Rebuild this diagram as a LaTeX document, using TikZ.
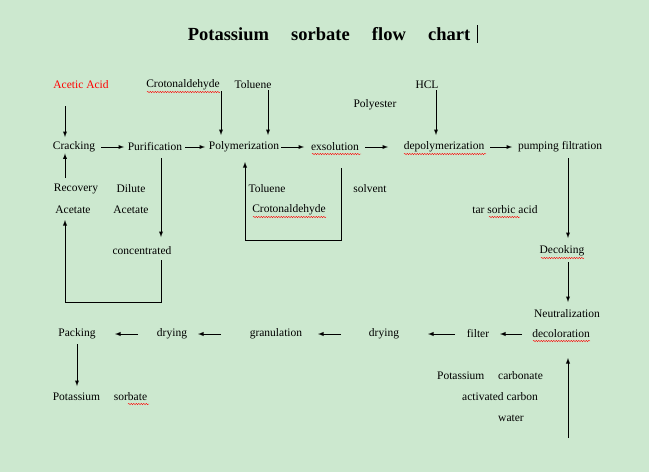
\documentclass[tikz,border=0pt]{standalone}
\usepackage{fontspec}
\setmainfont{Liberation Serif}
\usetikzlibrary{decorations.pathmorphing}
\definecolor{bg}{HTML}{CCE8CF}
\begin{document}
\begin{tikzpicture}[x=1pt,y=-1pt,
  t/.style={inner sep=1pt,font=\fontsize{11.5}{13}\selectfont},
  ar/.style={-latex,line width=0.9pt},
  ln/.style={line width=0.9pt},
  sq/.style={red,line width=0.4pt,decorate,decoration={snake,amplitude=0.7pt,segment length=2.5pt}}]
\fill[bg] (0,0) rectangle (649,472);
\useasboundingbox (0,0) rectangle (649,472);
\node[font=\bfseries\fontsize{18.5}{22}\selectfont] (title) at (329,34) {Potassium\hspace{1.2em}sorbate\hspace{1.2em}flow\hspace{1.2em}chart};
\draw[line width=0.6pt] (477,25) -- (477,43);
\node[t,red] (aa) at (81,85) {Acetic Acid};
\node[t] (cr1) at (183,85) {Crotonaldehyde};
\node[t] (to1) at (253,85) {Toluene};
\node[t] (hcl) at (427,85) {HCL};
\node[t] (pe) at (375,105) {Polyester};
\node[t] (crk) at (74,147) {Cracking};
\node[t] (pur) at (155,147) {Purification};
\node[t] (pol) at (244,147) {Polymerization};
\node[t] (exs) at (335,147) {exsolution};
\node[t] (dep) at (444,147) {depolymerization};
\node[t] (pf) at (560,147) {pumping filtration};
\node[t] (rec) at (76,189) {Recovery};
\node[t] (dil) at (131,189) {Dilute};
\node[t] (ac1) at (73,210) {Acetate};
\node[t] (ac2) at (131,210) {Acetate};
\node[t] (to2) at (267,189) {Toluene};
\node[t] (sol) at (370,189) {solvent};
\node[t] (cr2) at (289,210) {Crotonaldehyde};
\node[t] (tar) at (505,210) {tar sorbic acid};
\node[t] (con) at (142,251) {concentrated};
\node[t] (dec) at (562,251) {Decoking};
\node[t] (neu) at (567,314) {Neutralization};
\node[t] (dco) at (561,334) {decoloration};
\node[t] (fil) at (478,334) {filter};
\node[t] (dr1) at (384,334) {drying};
\node[t] (gra) at (276,334) {granulation};
\node[t] (dr2) at (172,334) {drying};
\node[t] (pac) at (77,334) {Packing};
\node[t] (ps) at (100,397) {Potassium\hspace{1.2em}sorbate};
\node[t] (pc) at (490,376) {Potassium\hspace{1.2em}carbonate};
\node[t] (acb) at (500,397) {activated carbon};
\node[t] (wat) at (511,418) {water};
% squiggles
\draw[sq] (147,92) -- (220,92);
\draw[sq] (312,154) -- (361,154);
\draw[sq] (404,154) -- (486,154);
\draw[sq] (253,217) -- (326,217);
\draw[sq] (489,217) -- (520,217);
\draw[sq] (541,258) -- (584,258);
\draw[sq] (533,341) -- (590,341);
\draw[sq] (128,404) -- (149,404);
% arrows
\draw[ar] (65,106) -- (65,137);
\draw[ar] (cr1.south -| 221,0) -- (221,135);
\draw[ar] (to1.south -| 268,0) -- (268,135);
\draw[ar] (hcl.south -| 436,0) -- (436,135);
\draw[ar] (crk.east -| 101,0) -- (pur.west -| 124,0);
\draw[ar] (pur.east -| 185,0) -- (pol.west -| 205,0);
\draw[ar] (pol.east -| 281,0) -- (exs.west -| 304,0);
\draw[ar] (exs.east -| 365,0) -- (dep.west -| 388,0);
\draw[ar] (dep.east -| 490,0) -- (pf.west -| 512,0);
\draw[ar] (65,178) -- (crk.south -| 65,0);
\draw[ar] (161,158) -- (161,237);
\draw[ln] (161,260) -- (161,302) -- (65,302);
\draw[ar] (65,302) -- (65,220);
\draw[ln] (341,168) -- (341,240) -- (245,240);
\draw[ar] (245,240) -- (245,162);
\draw[ar] (568,158) -- (568,238);
\draw[ar] (568,262) -- (568,302);
\draw[ar] (568,438) -- (568,358);
\draw[ar] (dco.west -| 522,0) -- (fil.east -| 500,0);
\draw[ar] (fil.west -| 455,0) -- (dr1.east -| 428,0);
\draw[ar] (dr1.west -| 341,0) -- (gra.east -| 318,0);
\draw[ar] (dr2.east -| 221,0) -- (dr2.east -| 198,0);
\draw[ar] (pac.east -| 138,0) -- (pac.east -| 115,0);
\draw[ar] (77,344) -- (77,386);
\end{tikzpicture}
\end{document}
